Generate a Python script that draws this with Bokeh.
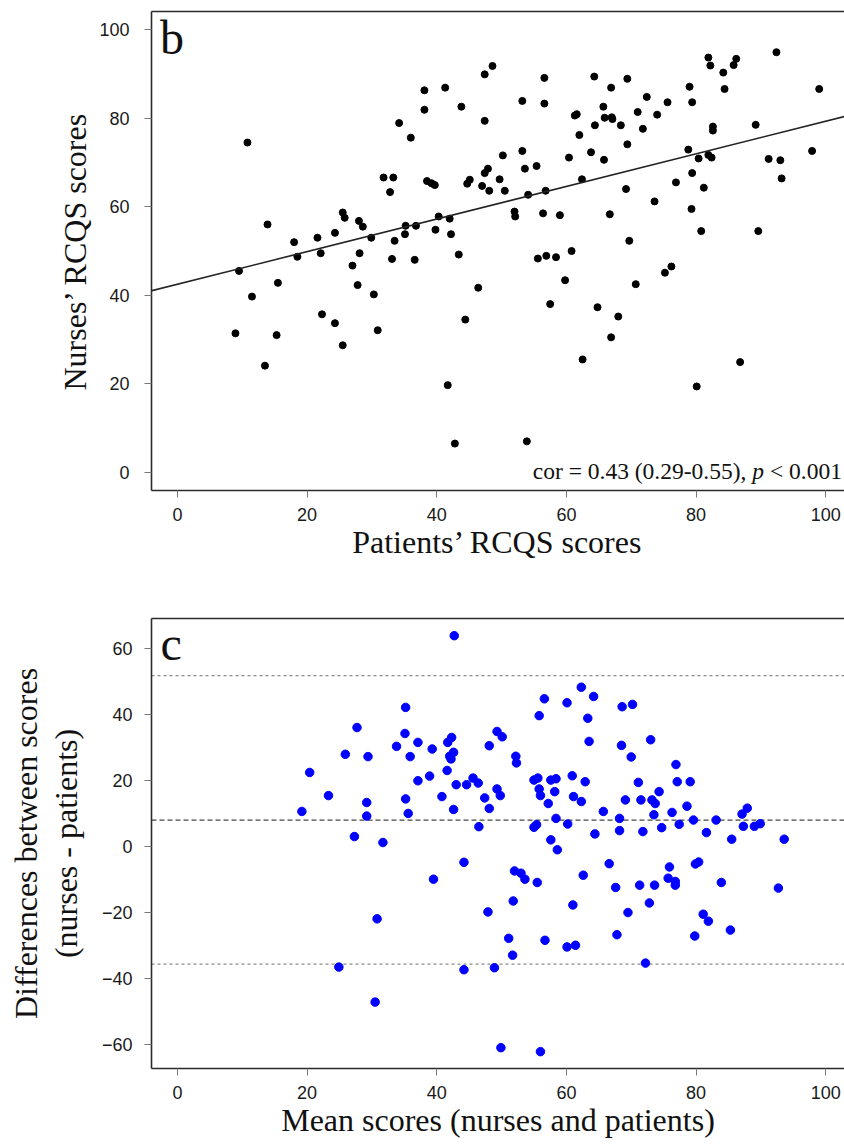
from bokeh.plotting import figure
from bokeh.models import (Label, Span, Slope, FixedTicker, LinearAxis,
                          CustomJSTickFormatter, Range1d)
from bokeh.layouts import column
from bokeh.embed import file_html
from bokeh.resources import INLINE

# ---------------- data: panel b (patients vs nurses RCQS scores) ----------------
patients_scores = [
    10.8, 34.2, 36.0, 31.8, 33.3, 32.8, 13.9, 25.5, 25.8, 28.0, 28.6, 24.3, 21.6, 18.0, 29.9,
    33.5, 35.2, 35.1, 36.8, 38.1, 38.1, 18.5, 22.1, 28.1, 27.0, 27.8, 30.3, 30.9, 33.1, 36.6,
    9.5, 11.5, 15.5, 8.95, 15.3, 13.5, 22.3, 24.3, 25.5, 41.3, 43.8, 47.4, 48.6, 47.4, 53.2,
    56.6, 56.6, 64.3, 66.9, 69.4, 65.7, 61.3, 61.6, 65.9, 67.0, 67.1, 64.4, 62.0, 68.4, 71.0,
    72.4, 74.0, 75.6, 71.8, 69.4, 79.0, 79.4, 81.9, 82.2, 84.2, 84.4, 85.8, 86.2, 92.4, 99.0,
    89.2, 82.6, 82.6, 78.8, 80.4, 81.9, 82.4, 91.2, 93.0, 93.2, 97.9, 79.4, 81.2, 76.9, 79.3,
    73.6, 80.8, 89.6, 69.7, 66.7, 69.2, 62.4, 63.8, 65.8, 60.4, 53.2, 53.6, 55.4, 50.2, 47.4,
    47.9, 49.7, 47.0, 48.1, 50.5, 44.7, 45.1, 38.5, 39.2, 39.7, 54.1, 56.8, 52.0, 52.1, 56.4,
    59.0, 40.3, 42.0, 39.8, 42.2, 43.4, 60.8, 46.4, 44.4, 41.7, 42.8, 53.9, 55.6, 56.9, 58.4,
    59.8, 57.5, 64.8, 68.0, 66.9, 62.5, 70.7, 75.2, 76.2, 86.8, 80.1,
]
nurses_scores = [
    74.5, 78.9, 75.6, 66.6, 66.6, 63.3, 56.0, 58.7, 57.5, 56.8, 55.5, 54.1, 53.0, 52.0, 53.0,
    52.3, 55.7, 53.8, 55.7, 86.3, 81.9, 48.7, 49.5, 49.5, 46.7, 42.3, 40.2, 32.1, 48.2, 48.0,
    45.5, 39.7, 42.8, 31.4, 31.0, 24.1, 35.7, 33.7, 28.7, 86.9, 82.6, 89.9, 91.8, 79.4, 83.9,
    89.1, 83.3, 89.4, 86.9, 88.9, 82.6, 80.6, 80.9, 80.1, 80.2, 79.8, 78.4, 76.2, 78.4, 81.4,
    84.8, 80.8, 83.6, 77.6, 74.1, 87.1, 83.6, 93.7, 91.9, 90.3, 86.6, 92.0, 93.4, 94.9, 86.6,
    78.5, 78.1, 77.2, 72.9, 70.9, 71.7, 71.1, 70.8, 70.5, 66.4, 72.6, 67.6, 64.3, 65.5, 59.5,
    61.2, 54.5, 54.5, 52.3, 58.3, 64.0, 66.2, 72.3, 70.6, 71.1, 72.6, 68.6, 69.2, 71.6, 67.6,
    68.6, 66.2, 64.7, 63.6, 63.6, 65.2, 66.1, 65.8, 65.3, 64.9, 62.7, 63.6, 58.9, 57.8, 58.5,
    58.1, 57.8, 57.3, 54.8, 53.8, 49.2, 50.0, 41.7, 34.5, 19.7, 6.5, 7.0, 48.3, 48.9, 48.6,
    43.4, 38.0, 37.3, 35.2, 30.5, 25.5, 42.5, 45.1, 46.5, 24.9, 19.4,
]
reg_intercept = 42.5
reg_slope = 0.368
cor_text_a = "cor = 0.43 (0.29-0.55),"
cor_text_p = "p"
cor_text_b = "< 0.001"

# ---------------- data: panel c (Bland-Altman) ----------------
mean_scores = [
    19.2, 20.4, 23.3, 25.9, 27.7, 29.4, 29.2, 29.2, 27.3, 31.7, 33.8, 35.2, 35.1, 35.9, 37.1,
    37.1, 35.2, 35.6, 42.7, 39.3, 38.9, 40.8, 41.6, 41.7, 42.3, 42.0, 42.2, 42.6, 43.0, 42.6,
    44.6, 45.6, 46.4, 46.5, 47.4, 48.1, 48.1, 49.3, 50.1, 49.3, 49.8, 52.2, 52.3, 55.0, 55.6,
    55.8, 56.0, 57.2, 57.6, 58.4, 58.2, 58.4, 60.2, 55.0, 55.4, 57.6, 58.6, 55.8, 56.6, 60.1,
    62.3, 64.2, 63.3, 63.5, 60.9, 62.9, 61.1, 62.3, 65.7, 64.4, 68.2, 68.2, 68.6, 70.2, 68.5,
    70.0, 73.0, 69.1, 71.1, 71.5, 73.2, 73.7, 74.3, 73.5, 71.8, 74.7, 76.3, 76.9, 77.1, 79.1,
    78.6, 77.4, 79.6, 81.6, 83.1, 85.5, 87.1, 87.9, 87.3, 89.0, 89.9, 93.6, 30.8, 24.9, 30.5,
    39.5, 44.2, 44.2, 47.9, 48.9, 52.0, 53.0, 53.6, 55.5, 51.8, 51.1, 51.7, 56.7, 60.1, 61.4,
    61.0, 62.6, 66.6, 67.6, 67.8, 69.5, 71.3, 73.6, 72.8, 72.2, 75.9, 75.7, 76.8, 76.8, 79.9,
    80.4, 81.1, 81.9, 79.8, 83.9, 85.3, 92.7, 49.9, 56.0,
]
diff_scores = [
    10.6, 22.4, 15.4, 27.9, 36.0, 27.2, 13.3, 9.2, 3.0, 1.2, 30.3, 42.1, 34.2, 27.2, 31.5,
    19.9, 14.4, 10.0, 63.8, 29.5, 21.3, 15.1, 23.0, 31.5, 33.0, 27.3, 26.5, 28.5, 18.7, 11.2,
    18.7, 20.7, 19.2, 6.0, 14.7, 11.5, 30.5, 34.8, 33.2, 17.4, 15.4, 27.3, 25.3, 20.1, 20.7,
    17.4, 15.4, 13.0, 20.1, 20.5, 16.6, 8.5, 6.8, 5.8, 6.6, 2.0, -1.0, 39.6, 44.7, 43.5,
    48.2, 45.4, 38.8, 31.8, 21.4, 19.6, 15.1, 13.6, 10.6, 3.8, 8.5, 4.8, 42.3, 43.0, 30.6,
    27.1, 32.3, 14.1, 19.4, 14.1, 14.1, 13.0, 16.6, 9.6, 4.5, 5.7, 10.3, 24.8, 19.6, 19.6,
    12.2, 6.7, 8.0, 4.2, 8.0, 2.2, 9.8, 11.6, 6.1, 6.1, 6.9, 2.2, -21.9, -36.5, -47.1,
    -9.9, -4.8, -37.3, -19.8, -36.7, -7.4, -8.1, -9.9, -10.9, -16.5, -27.8, -32.9, -28.4, -30.4, -29.9,
    -17.7, -8.7, -5.2, -12.4, -26.7, -20.0, -11.7, -11.7, -17.1, -35.3, -6.2, -9.6, -10.6, -11.7, -5.3,
    -4.7, -20.5, -22.6, -27.1, -10.9, -25.3, -12.6, -60.9, -62.1,
]
mean_diff = 8.0
loa_upper = 51.7
loa_lower = -35.6

x_ticks = [0, 20, 40, 60, 80, 100]
b_y_ticks = [0, 20, 40, 60, 80, 100]
c_y_ticks = [-60, -40, -20, 0, 20, 40, 60]

TICK_FONT = "Liberation Sans"
SERIF = "Liberation Serif"
FRAME = "#2b2b2b"
TICKC = "#777777"
TXT = "#1a1a1a"
minus_fmt = CustomJSTickFormatter(code="return tick < 0 ? '\\u2212' + Math.abs(tick) : String(tick);")


def style_axis(ax, ticks, label, label_size, label_standoff, tick_standoff):
    ax.ticker = FixedTicker(ticks=ticks)
    ax.formatter = minus_fmt
    ax.axis_line_color = FRAME
    ax.axis_line_width = 1.6
    ax.major_tick_line_color = TICKC
    ax.major_tick_line_width = 1
    ax.major_tick_out = 7
    ax.major_tick_in = 0
    ax.minor_tick_line_color = None
    ax.major_label_text_font = TICK_FONT
    ax.major_label_text_font_size = "18px"
    ax.major_label_text_color = TXT
    ax.major_label_standoff = tick_standoff
    ax.axis_label = label
    ax.axis_label_text_font = SERIF
    ax.axis_label_text_font_size = label_size
    ax.axis_label_text_font_style = "normal"
    ax.axis_label_text_color = "#111111"
    ax.axis_label_standoff = label_standoff


def base_fig(height, y_start, y_end, top, bottom):
    p = figure(width=844, height=height, x_range=Range1d(-4.0, 102.9),
               y_range=Range1d(y_start, y_end), output_backend="svg",
               toolbar_location=None, min_border_left=151, min_border_right=0,
               min_border_top=top, min_border_bottom=bottom)
    p.grid.visible = False
    p.outline_line_color = None
    p.background_fill_color = "white"
    p.border_fill_color = "white"
    top_axis = LinearAxis(ticker=FixedTicker(ticks=[]), axis_line_color=FRAME,
                          axis_line_width=1.6, major_tick_out=0, major_tick_in=0,
                          minor_tick_out=0, minor_tick_in=0, major_label_standoff=0,
                          major_label_text_font_size="0px")
    p.add_layout(top_axis, "above")
    return p


# ---------------- panel b ----------------
pb = base_fig(583, -4.1, 104.1, 11, 93)
style_axis(pb.below[0], x_ticks, "Patients\u2019 RCQS scores", "32px", 0, 10)
style_axis(pb.left[0], b_y_ticks, "Nurses\u2019 RCQS scores", "32px", 3, 15)
pb.add_layout(Slope(gradient=reg_slope, y_intercept=reg_intercept,
                    line_color="#222222", line_width=1.6))
pb.scatter(patients_scores, nurses_scores, size=7, color="black")
pb.add_layout(Label(x=-2.7, y=98.2, text="b", text_font=SERIF, text_font_size="48px",
                    text_color="#111111", text_baseline="alphabetic"))
fs = 23.5
px_per_unit = 6.48
x_right = 102.5
cor_y = 0.2
pb.add_layout(Label(x=x_right, y=cor_y, text=cor_text_b, text_font=SERIF,
                    text_font_size=f"{fs}px", text_align="right",
                    text_baseline="alphabetic", text_color="#111111"))
pb.add_layout(Label(x=x_right - 3.314 * fs / px_per_unit, y=cor_y, text=cor_text_p,
                    text_font=SERIF, text_font_style="italic", text_font_size=f"{fs}px",
                    text_align="right", text_baseline="alphabetic", text_color="#111111"))
pb.add_layout(Label(x=x_right - 4.064 * fs / px_per_unit, y=cor_y, text=cor_text_a,
                    text_font=SERIF, text_font_size=f"{fs}px", text_align="right",
                    text_baseline="alphabetic", text_color="#111111"))

# ---------------- panel c ----------------
pc = base_fig(561, -67.2, 69.0, 35, 76)
style_axis(pc.below[0], x_ticks, "Mean scores (nurses and patients)", "32px", 0, 10)
style_axis(pc.left[0], c_y_ticks, "Differences between scores\n(nurses - patients)",
           "32px", 15, 12)
pc.left[0].axis_label_text_line_height = 1.12
pc.add_layout(Span(location=loa_upper, dimension="width", line_color="#8a8a8a",
                   line_width=1.2, line_dash="3 3", level="underlay"))
pc.add_layout(Span(location=loa_lower, dimension="width", line_color="#8a8a8a",
                   line_width=1.2, line_dash="3 3", level="underlay"))
pc.add_layout(Span(location=mean_diff, dimension="width", line_color="#444444",
                   line_width=1.2, line_dash="5 3", level="underlay"))
pc.scatter(mean_scores, diff_scores, size=8.5, color="#0000FF")
pc.add_layout(Label(x=-2.6, y=61.4, text="c", text_font=SERIF, text_font_size="48px",
                    text_color="#111111", text_baseline="alphabetic"))

layout = column(pb, pc, spacing=0)
open("out.html", "w").write(file_html(layout, INLINE))
